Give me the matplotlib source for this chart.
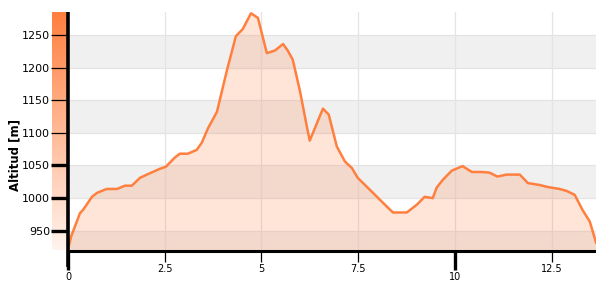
import numpy as np
import matplotlib
matplotlib.use('Agg')
import matplotlib.pyplot as plt

# elevation profile
distance = [0, 0.08, 0.31, 0.39, 0.62, 0.75, 1.0, 1.27, 1.47, 1.65, 1.86, 2.04, 2.38, 2.53,
            2.76, 2.89, 3.10, 3.33, 3.46, 3.62, 3.85, 4.11, 4.34, 4.52, 4.73, 4.91, 5.14,
            5.35, 5.56, 5.68, 5.81, 5.99, 6.18, 6.25, 6.59, 6.74, 6.95, 7.16, 7.34, 7.49,
            7.80, 8.14, 8.40, 8.76, 9.02, 9.22, 9.43, 9.53, 9.69, 9.92, 10.2, 10.44, 10.70,
            10.9, 11.1, 11.34, 11.68, 11.89, 12.2, 12.4, 12.71, 12.89, 13.1, 13.3, 13.49, 13.65]
altitude = [921, 941, 977, 982, 1002, 1008, 1014, 1014, 1019, 1019, 1031, 1036, 1045, 1048,
            1062, 1068, 1068, 1074, 1085, 1107, 1132, 1196, 1248, 1259, 1283, 1276, 1222,
            1226, 1236, 1226, 1212, 1166, 1108, 1088, 1137, 1128, 1079, 1056, 1046, 1031,
            1013, 993, 978, 978, 990, 1002, 1000, 1016, 1028, 1042, 1049, 1040, 1040,
            1039, 1033, 1036, 1036, 1023, 1020, 1017, 1014, 1011, 1005, 982, 964, 932]

x_major = [0, 10]
x_minor = [2.5, 5, 7.5, 12.5]
y_major = [950, 1000, 1050]
y_minor = [1100, 1150, 1200, 1250]
y_min, y_max = 919, 1285
x_max = 13.65

line_color = '#ff7f3f'

fig = plt.figure(figsize=(5.96, 2.81), dpi=100)

# colour scale strip left of the axis
cax = fig.add_axes([52 / 596, 31 / 281, 16 / 596, 238 / 281], zorder=0)
grad = np.linspace(0, 1, 256).reshape(-1, 1)
cmap = matplotlib.colors.LinearSegmentedColormap.from_list('alt', ['#fff4ee', line_color])
cax.imshow(grad, aspect='auto', cmap=cmap, origin='lower')
cax.axis('off')

ax = fig.add_axes([68 / 596, 30 / 281, 528 / 596, 239 / 281], zorder=1)
ax.set_facecolor('white')
ax.set_xlim(0, x_max)
ax.set_ylim(y_min, y_max)

# alternating bands
edges = [y_min] + y_major + y_minor + [y_max]
for i in range(0, len(edges) - 1, 2):
    ax.axhspan(edges[i], edges[i + 1], color='#f0f0f0', lw=0, zorder=0)

ax.set_xticks(x_major)
ax.set_xticks(x_minor, minor=True)
ax.set_xticklabels(['0', '10'])
ax.set_xticklabels(['2.5', '5', '7.5', '12.5'], minor=True)
ax.set_yticks(y_major)
ax.set_yticks(y_minor, minor=True)
ax.set_yticklabels([str(v) for v in y_major])
ax.set_yticklabels([str(v) for v in y_minor], minor=True)

ax.grid(True, which='both', color='#e4e4e4', lw=0.9, zorder=0.5)
ax.set_axisbelow(True)

ax.fill_between(distance, altitude, y_min, color=line_color, alpha=0.2, lw=0, zorder=1)
ax.plot(distance, altitude, color=line_color, lw=1.8, zorder=2)

for s in ['top', 'right']:
    ax.spines[s].set_visible(False)
ax.spines['left'].set_visible(False)
ax.spines['bottom'].set_linewidth(2.2)
ax.spines['bottom'].set_color('black')
# y axis line runs a bit below the x axis
ax.plot([0, 0], [-0.067, 1], transform=ax.transAxes, color='black', lw=2.6,
        clip_on=False, zorder=5, solid_capstyle='butt')

ax.tick_params(axis='y', which='major', length=12, width=2.4, pad=1, labelsize=8, color='black')
ax.tick_params(axis='y', which='minor', length=12, width=0.9, pad=1, labelsize=8, color='black')
ax.tick_params(axis='x', which='major', length=14, width=2.4, pad=1, labelsize=6.5, color='black')
ax.tick_params(axis='x', which='minor', length=8, width=0.9, pad=1, labelsize=6.5, color='black')
for lab in ax.get_xticklabels(minor=True) + ax.get_xticklabels():
    lab.set_family(['Liberation Sans Narrow', 'DejaVu Sans'])
    lab.set_fontsize(7)

ax.set_ylabel('Altitud [m]', fontsize=8.5, fontweight='bold')
ax.yaxis.set_label_coords(-0.088, 0.40)

fig.savefig('out.png', dpi=100)
